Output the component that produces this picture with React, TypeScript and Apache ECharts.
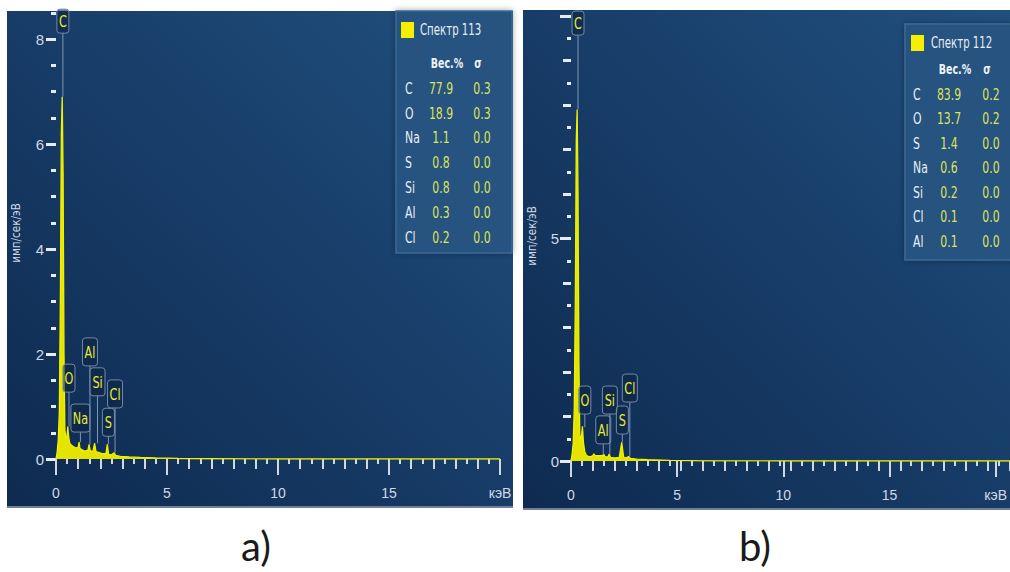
import React, { useEffect, useRef } from "react";
import * as echarts from "echarts";

// ---------- Spectrum a) ----------
const energyA = [0, 0.05, 0.1, 0.15, 0.2, 0.24, 0.28, 0.32, 0.36, 0.4, 0.45, 0.5, 0.53, 0.57, 0.62, 0.7, 0.8, 0.9, 1.0, 1.04, 1.08, 1.2, 1.3, 1.44, 1.49, 1.54, 1.66, 1.74, 1.8, 1.95, 2.1, 2.25, 2.31, 2.37, 2.5, 2.62, 2.68, 2.9, 3.3, 3.8, 4.5, 5.5, 7, 10, 20];
const countsA = [0, 0.12, 0.35, 0.9, 3.2, 6.2, 6.9, 5.4, 2.0, 0.55, 0.38, 0.45, 0.62, 0.42, 0.3, 0.26, 0.23, 0.21, 0.22, 0.32, 0.2, 0.17, 0.15, 0.17, 0.28, 0.16, 0.14, 0.3, 0.14, 0.12, 0.1, 0.1, 0.28, 0.09, 0.08, 0.12, 0.07, 0.05, 0.04, 0.03, 0.02, 0.01, 0.005, 0, 0];

const peakNamesA = ["C", "O", "Na", "Al", "Si", "S", "Cl"];
const peakEnergyA = [0.31, 0.585, 1.1, 1.53, 1.87, 2.36, 2.66];
const peakLabelYA = [8.34, 1.54, 0.78, 2.04, 1.47, 0.7, 1.24];
const peakTopA = [6.9, 0.62, 0.32, 0.28, 0.3, 0.28, 0.12];

const tableTitleA = "Спектр 113";
const tableElemA = ["C", "O", "Na", "S", "Si", "Al", "Cl"];
const tableWtA = ["77.9", "18.9", "1.1", "0.8", "0.8", "0.3", "0.2"];
const tableSigA = ["0.3", "0.3", "0.0", "0.0", "0.0", "0.0", "0.0"];

// ---------- Spectrum b) ----------
const energyB = [0, 0.05, 0.1, 0.15, 0.2, 0.24, 0.28, 0.32, 0.36, 0.4, 0.46, 0.52, 0.57, 0.63, 0.7, 0.8, 0.9, 1.0, 1.04, 1.1, 1.3, 1.44, 1.49, 1.55, 1.68, 1.74, 1.8, 2.0, 2.2, 2.31, 2.4, 2.52, 2.62, 2.7, 3.0, 3.5, 4.5, 6, 10, 20];
const countsB = [0, 0.15, 0.4, 1.2, 3.8, 7.2, 7.9, 6.0, 2.2, 0.6, 0.45, 0.78, 0.4, 0.2, 0.13, 0.1, 0.1, 0.12, 0.16, 0.12, 0.12, 0.12, 0.15, 0.1, 0.09, 0.16, 0.08, 0.07, 0.08, 0.42, 0.08, 0.07, 0.1, 0.06, 0.04, 0.03, 0.015, 0.005, 0, 0];

const peakNamesB = ["C", "O", "Al", "Si", "S", "Cl"];
const peakEnergyB = [0.32, 0.63, 1.47, 1.77, 2.34, 2.68];
const peakLabelYB = [9.84, 1.37, 0.7, 1.37, 0.92, 1.64];
const peakTopB = [7.9, 0.76, 0.15, 0.16, 0.42, 0.1];

const tableTitleB = "Спектр 112";
const tableElemB = ["C", "O", "S", "Na", "Si", "Cl", "Al"];
const tableWtB = ["83.9", "13.7", "1.4", "0.6", "0.2", "0.1", "0.1"];
const tableSigB = ["0.2", "0.2", "0.0", "0.0", "0.0", "0.0", "0.0"];

// ---------- Axis labels ----------
const xTickLabels = ["0", "5", "10", "15", "кэВ"];
const yTickLabelsA = ["0", "2", "4", "6", "8"];
const yTickLabelsB = ["0", "5", ""];
const yAxisTitle = "имп/сек/эВ";
const headerWt = "Вес.%";
const headerSig = "σ";
const captions = ["a)", "b)"];

const FONT = "'DejaVu Sans', 'Open Sans', sans-serif";
const SX = 0.68; // horizontal condensing of graphic texts
const AXIS_COLOR = "#d0d8e4";
const YELLOW = "#f0f000";
const NUM_COLOR = "#dfe55a";

function pairs(xs: number[], ys: number[]) {
  return xs.map((x, i) => [x, ys[i]]);
}

function xAx(grid: number, interval: number, len: number, labels?: string[]) {
  return {
    type: "value", gridIndex: grid, min: 0, max: 20, interval, offset: 4,
    axisLine: { show: false }, splitLine: { show: false },
    axisTick: { show: true, length: len, lineStyle: { color: AXIS_COLOR, width: 2 } },
    axisLabel: labels
      ? { show: true, color: AXIS_COLOR, fontFamily: "'Liberation Sans', sans-serif", fontSize: 14, margin: 23,
          formatter: (v: number) => (Math.abs(v / 5 - Math.round(v / 5)) < 1e-6 ? labels[Math.round(v / 5)] ?? "" : "") }
      : { show: false },
  };
}

function yAx(grid: number, max: number, interval: number, len: number, labels?: string[], show = true) {
  return {
    type: "value", gridIndex: grid, min: 0, max, interval, show,
    axisLine: { show: false }, splitLine: { show: false },
    axisTick: { show: true, length: len, lineStyle: { color: "#e6ecf4", width: 3 } },
    axisLabel: labels
      ? { show: true, color: AXIS_COLOR, fontFamily: "'Liberation Sans', sans-serif", fontSize: 15, margin: 12,
          formatter: (v: number) => (Math.abs(v / interval - Math.round(v / interval)) < 1e-6 ? labels[Math.round(v / interval)] ?? "" : "") }
      : { show: false },
  };
}

function labelSeries(xIdx: number, names: string[], energies: number[], ys: number[], tops: number[]) {
  return {
    type: "custom", xAxisIndex: xIdx, yAxisIndex: xIdx, z: 6, clip: false,
    data: energies.map((e, i) => [e, ys[i], tops[i]]),
    renderItem: (params: any, api: any) => {
      const name = names[params.dataIndex];
      const c = api.coord([api.value(0), api.value(1)]);
      const p = api.coord([api.value(0), api.value(2)]);
      const w = name.length === 1 ? 12 : name === "Na" ? 19 : 15;
      const h = name === "C" ? 24 : 28;
      const children: any[] = [];
      if (p[1] > c[1] + h / 2) {
        children.push({ type: "line", shape: { x1: c[0], y1: c[1] + h / 2, x2: c[0], y2: p[1] },
          style: { stroke: "#7f95b3", lineWidth: 1 } });
      }
      children.push({ type: "rect", shape: { x: c[0] - w / 2, y: c[1] - h / 2, width: w, height: h, r: 3 },
        style: { fill: "rgba(14,36,64,0.6)", stroke: "#7289aa", lineWidth: 1 } });
      children.push({ type: "text", x: c[0], y: c[1] + 1, scaleX: 0.75,
        style: { text: name, x: 0, y: 0, align: "center", verticalAlign: "middle",
          fill: "#e8ea3c", font: `15px ${FONT}` } });
      return { type: "group", children };
    },
  };
}

function txt(x: number, y: number, text: string, fill: string, font: string, align = "left") {
  return { type: "text", z: 21, x, y, scaleX: SX, style: { text, fill, font, align, verticalAlign: "middle" } };
}

function table(cfg: any) {
  const els: any[] = [];
  els.push({ type: "rect", z: 20, shape: { x: cfg.x, y: cfg.y, width: cfg.w, height: cfg.h },
    style: { fill: "#27527f", stroke: "#3c6997", lineWidth: 1.5, shadowBlur: 6, shadowColor: "rgba(0,0,0,0.35)" } });
  els.push({ type: "rect", z: 21, shape: { x: cfg.sqX, y: cfg.sqY, width: 13, height: 16 }, style: { fill: "#f5f000" } });
  els.push(txt(cfg.titleX, cfg.sqY + 8, cfg.title, "#e8eef6", `15px ${FONT}`));
  els.push(txt(cfg.wtX + 6, cfg.headY, headerWt, "#eef2f8", `bold 14px ${FONT}`, "center"));
  els.push(txt(cfg.sigX - 4, cfg.headY, headerSig, "#eef2f8", `bold 14px ${FONT}`, "center"));
  cfg.elems.forEach((e: string, i: number) => {
    const y = cfg.rowY + i * cfg.rowH;
    els.push(txt(cfg.elX, y, e, "#e8eef6", `16px ${FONT}`));
    els.push(txt(cfg.wtX, y, cfg.wts[i], NUM_COLOR, `16px ${FONT}`, "center"));
    els.push(txt(cfg.sigX, y, cfg.sigs[i], NUM_COLOR, `16px ${FONT}`, "center"));
  });
  return els;
}

function panelBg(x: number, y: number, w: number, h: number) {
  return [
    { type: "rect", z: -10, shape: { x, y, width: w, height: h },
      style: { fill: new echarts.graphic.LinearGradient(0, 1, 1, 0, [
        { offset: 0, color: "#0e2a50" }, { offset: 0.5, color: "#173c67" }, { offset: 1, color: "#21507f" }]) } },
    { type: "rect", z: -9, shape: { x, y: y + h - 2, width: w, height: 2 }, style: { fill: "#6f8098" } },
  ];
}

function yTitle(x: number, y: number) {
  return { type: "text", z: 5, x, y, rotation: Math.PI / 2, scaleX: 0.8,
    style: { text: yAxisTitle, fill: AXIS_COLOR, font: `13px ${FONT}`, align: "center", verticalAlign: "middle" } };
}

export default function App() {
  const ref = useRef<HTMLDivElement>(null);
  useEffect(() => {
    if (!ref.current) return;
    const chart = echarts.init(ref.current, undefined, { renderer: "svg" });
    const gridA = { left: 56, right: 510, top: 12.75, bottom: 113 };
    const gridAInt = { left: 56, right: 510, top: 39, bottom: 113 };
    const gridB = { left: 571, right: -2, top: 16, bottom: 111 };
    const option: any = {
      animation: false,
      backgroundColor: "#ffffff",
      grid: [gridA, gridAInt, gridA, gridB, gridB, gridB],
      xAxis: [
        xAx(0, 0.5, 5), xAx(1, 1, 10), xAx(2, 5, 16, xTickLabels),
        xAx(3, 0.5, 5), xAx(4, 1, 10), xAx(5, 5, 16, xTickLabels),
      ],
      yAxis: [
        yAx(0, 8.5, 0.5, 5),
        yAx(1, 8, 2, 10, yTickLabelsA),
        yAx(2, 8.5, 5, 0, undefined, false),
        yAx(3, 10, 0.5, 4),
        yAx(4, 10, 1, 8),
        yAx(5, 10, 5, 11, yTickLabelsB),
      ],
      graphic: {
        elements: [
          ...panelBg(7, 11, 506, 497),
          ...panelBg(523, 10, 490, 500),
          yTitle(16, 233),
          yTitle(532, 236),
          ...table({ x: 396, y: 11, w: 116, h: 242, sqX: 401, sqY: 22, titleX: 420, title: tableTitleA,
            headY: 63, elX: 405, wtX: 441, sigX: 482, rowY: 88, rowH: 24.8,
            elems: tableElemA, wts: tableWtA, sigs: tableSigA }),
          ...table({ x: 905, y: 24, w: 110, h: 236, sqX: 911, sqY: 35, titleX: 931, title: tableTitleB,
            headY: 69, elX: 913, wtX: 949, sigX: 991, rowY: 94, rowH: 24.5,
            elems: tableElemB, wts: tableWtB, sigs: tableSigB }),
          { type: "text", x: 256, y: 546, style: { text: captions[0], fill: "#1a1a1a", font: `40px Lato, 'Open Sans', sans-serif`, align: "center", verticalAlign: "middle" } },
          { type: "text", x: 755, y: 546, style: { text: captions[1], fill: "#1a1a1a", font: `40px Lato, 'Open Sans', sans-serif`, align: "center", verticalAlign: "middle" } },
        ],
      },
      series: [
        { type: "line", xAxisIndex: 0, yAxisIndex: 0, data: pairs(energyA, countsA), showSymbol: false, z: 4,
          lineStyle: { color: YELLOW, width: 1.3 }, areaStyle: { color: "#e4e400", opacity: 1 } },
        labelSeries(0, peakNamesA, peakEnergyA, peakLabelYA, peakTopA),
        { type: "line", xAxisIndex: 3, yAxisIndex: 3, data: pairs(energyB, countsB), showSymbol: false, z: 4,
          lineStyle: { color: YELLOW, width: 1.3 }, areaStyle: { color: "#e4e400", opacity: 1 } },
        labelSeries(3, peakNamesB, peakEnergyB, peakLabelYB, peakTopB),
      ],
    };
    chart.setOption(option);
    return () => chart.dispose();
  }, []);
  return <div ref={ref} style={{ position: "absolute", left: 0, top: 0, width: 1010, height: 572 }} />;
}
